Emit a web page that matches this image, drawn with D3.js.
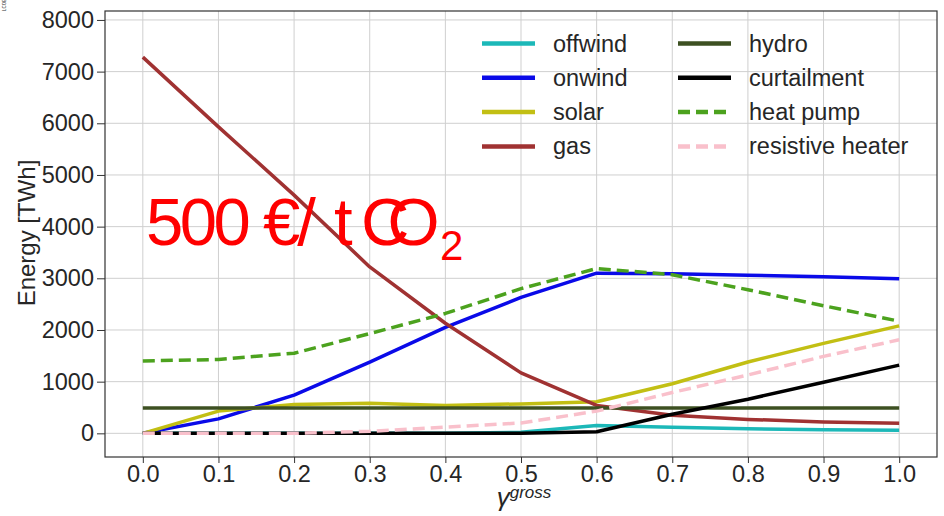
<!DOCTYPE html>
<html>
<head>
<meta charset="utf-8">
<script src="https://cdn.jsdelivr.net/npm/d3@7"></script>
<style>
  body { margin: 0; background: #fff; }
  svg { display: block; font-family: "Liberation Sans", Arial, sans-serif; }
  .grid line { stroke: #cfcfcf; stroke-width: 1; }
  .axis path, .axis line { stroke: #333; }
  .axis text { fill: #262626; font-size: 23.5px; }
</style>
</head>
<body>
<div id="chart"></div>
<script>
// gamma gross share
const xs = [0.0, 0.1, 0.2, 0.3, 0.4, 0.5, 0.6, 0.7, 0.8, 0.9, 1.0];

const offwind     = [0, 0, 0, 0, 0, 20, 150, 120, 90, 70, 60];
const onwind      = [0, 280, 740, 1380, 2050, 2630, 3100, 3090, 3060, 3030, 2990];
const solar       = [0, 430, 560, 580, 540, 570, 610, 960, 1380, 1740, 2080];
const gas         = [7280, 5930, 4610, 3220, 2130, 1170, 540, 350, 270, 220, 195];
const hydro       = [490, 490, 490, 490, 490, 490, 490, 490, 490, 490, 490];
const curtailment = [0, 0, 0, 0, 0, 0, 30, 370, 660, 990, 1320];
const heatPump    = [1400, 1430, 1550, 1930, 2320, 2800, 3190, 3070, 2780, 2470, 2170];
const resistive   = [0, 0, 0, 40, 120, 200, 430, 790, 1130, 1490, 1810];

const xTicks = [0.0, 0.1, 0.2, 0.3, 0.4, 0.5, 0.6, 0.7, 0.8, 0.9, 1.0];
const yTicks = [0, 1000, 2000, 3000, 4000, 5000, 6000, 7000, 8000];

const series = [
  {name: "offwind", values: offwind, color: "#1cb8b8", dash: null},
  {name: "onwind", values: onwind, color: "#0a0ae8", dash: null},
  {name: "solar", values: solar, color: "#c2bf14", dash: null},
  {name: "gas", values: gas, color: "#a03232", dash: null},
  {name: "hydro", values: hydro, color: "#3d5022", dash: null},
  {name: "curtailment", values: curtailment, color: "#000000", dash: null},
  {name: "heat pump", values: heatPump, color: "#4ca21e", dash: "12,6"},
  {name: "resistive heater", values: resistive, color: "#f9c0cb", dash: "12,6"}
];

const W = 944, H = 516;
const mLeft = 105, mRight = 937, mTop = 11, mBottom = 457;

const x = d3.scaleLinear().domain([-0.05, 1.05]).range([mLeft, mRight]);
const y = d3.scaleLinear().domain([-458, 8173]).range([mBottom, mTop]);

const svg = d3.select("#chart").append("svg")
    .attr("width", W)
    .attr("height", H);

// grid
const grid = svg.append("g").attr("class", "grid");
grid.selectAll(".gx").data(xTicks).enter().append("line")
    .attr("x1", d => x(d)).attr("x2", d => x(d))
    .attr("y1", mTop).attr("y2", mBottom);
grid.selectAll(".gy").data(yTicks).enter().append("line")
    .attr("x1", mLeft).attr("x2", mRight)
    .attr("y1", d => y(d)).attr("y2", d => y(d));

// tiny label in the corner
svg.append("text")
    .attr("transform", "translate(5.5,11) rotate(-90)")
    .attr("font-size", 4.5)
    .attr("fill", "#333")
    .text("LCOE");

// the lines
const line = d3.line()
    .x((d, i) => x(xs[i]))
    .y(d => y(d));

svg.append("g").selectAll("path")
    .data(series)
    .enter()
    .append("path")
    .attr("d", d => line(d.values))
    .attr("fill", "none")
    .attr("stroke", d => d.color)
    .attr("stroke-width", 3.5)
    .attr("stroke-dasharray", d => d.dash)
    .attr("stroke-linejoin", "round");

// frame and axes
svg.append("rect")
    .attr("x", mLeft).attr("y", mTop)
    .attr("width", mRight - mLeft).attr("height", mBottom - mTop)
    .attr("fill", "none").attr("stroke", "#333").attr("stroke-width", 1.2);

const xAxis = d3.axisBottom(x).tickValues(xTicks).tickFormat(d3.format(".1f")).tickSize(6).tickPadding(2);
svg.append("g")
    .attr("class", "axis")
    .attr("transform", "translate(0," + mBottom + ")")
    .call(xAxis)
    .call(g => g.select(".domain").remove());

const yAxis = d3.axisLeft(y).tickValues(yTicks).tickFormat(d3.format("d")).tickSize(8).tickPadding(3);
svg.append("g")
    .attr("class", "axis")
    .attr("transform", "translate(" + mLeft + ",0)")
    .call(yAxis)
    .call(g => g.select(".domain").remove());

// axis labels
svg.append("text")
    .attr("transform", "translate(35,233) rotate(-90)")
    .attr("text-anchor", "middle")
    .attr("font-size", 24)
    .attr("fill", "#262626")
    .text("Energy [TWh]");

const xl = svg.append("text")
    .attr("x", 524).attr("y", 506)
    .attr("text-anchor", "middle")
    .attr("fill", "#262626")
    .attr("font-style", "italic");
xl.append("tspan").attr("font-size", 26).text("γ");
xl.append("tspan").attr("font-size", 17).attr("dy", -8).text("gross");

// carbon price annotation, squeezed like the original mathtext
const ann = svg.append("text")
    .attr("y", 245)
    .attr("fill", "#ff0000")
    .attr("font-size", 67);
ann.append("tspan").attr("x", 146).attr("letter-spacing", -3.5).text("500");
ann.append("tspan").attr("x", 263).attr("letter-spacing", -3).text("€/");
ann.append("tspan").attr("x", 334).text("t");
ann.append("tspan").attr("x", 361).attr("letter-spacing", -22).text("CO");
ann.append("tspan").attr("x", 440).attr("y", 260).attr("font-size", 42).text("2");

// legend
const legend = svg.append("g");
const rowH = 34.3;
series.forEach((s, i) => {
  const col = Math.floor(i / 4), row = i % 4;
  const lx = col === 0 ? 482 : 678;
  const ly = 43.5 + row * rowH;
  legend.append("line")
      .attr("x1", lx).attr("x2", lx + 53)
      .attr("y1", ly).attr("y2", ly)
      .attr("stroke", s.color)
      .attr("stroke-width", 4.5)
      .attr("stroke-dasharray", s.dash);
  legend.append("text")
      .attr("x", lx + 71).attr("y", ly + 8)
      .attr("font-size", 23.5)
      .attr("fill", "#262626")
      .text(s.name);
});
</script>
</body>
</html>
